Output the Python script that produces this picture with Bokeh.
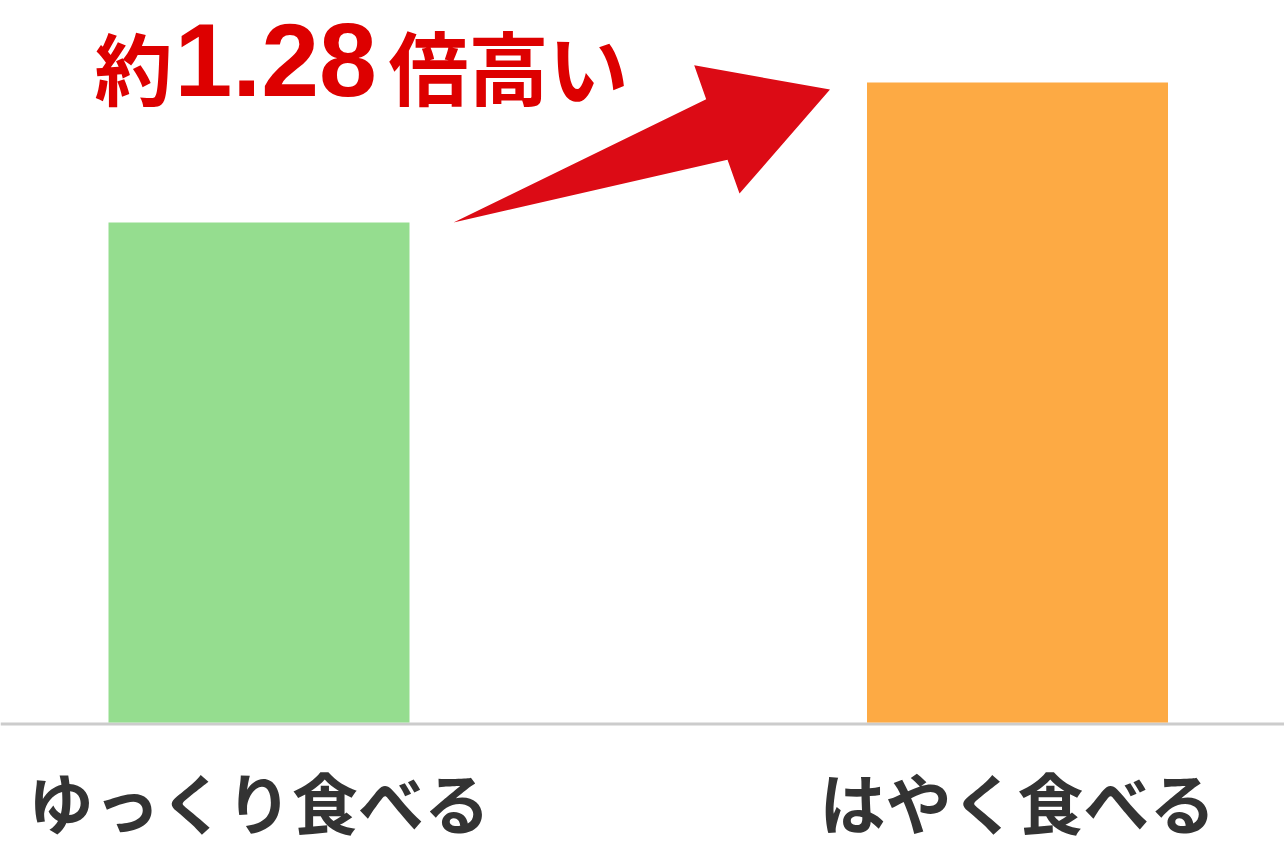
import math
from bokeh.plotting import figure
from bokeh.models import Range1d, Span
from bokeh.core.properties import value
from bokeh.embed import file_html
from bokeh.resources import INLINE

# ---- data ----
categories = ["ゆっくり食べる", "はやく食べる"]
values = [100, 128]
bar_colors = ["#95dd8f", "#fdaa44"]
title_prefix = "約"
title_number = "1.28"
title_suffix = "倍高い"

# ---- layout (pixel geometry of the frame) ----
W, H = 1284, 850
x0_px = 258.5       # pixel centre of the first category
px_per_x = 758.5    # pixels per category step
y0_px = 722.0       # pixel row of the value 0
px_per_y = 5.0      # pixels per value unit
bar_width = 301 / px_per_x


def to_data(px, py):
    return (px - x0_px) / px_per_x, (y0_px - py) / px_per_y


def to_px(x, y):
    return x0_px + x * px_per_x, y0_px - y * px_per_y


p = figure(width=W, height=H, output_backend="svg", toolbar_location=None,
           x_range=Range1d(-x0_px / px_per_x, (W - x0_px) / px_per_x),
           y_range=Range1d(-(H - y0_px) / px_per_y, y0_px / px_per_y),
           x_axis_location=None, y_axis_location=None,
           min_border=0)
p.outline_line_color = None
p.grid.visible = False
p.background_fill_color = "white"
p.border_fill_color = "white"

xs = list(range(len(categories)))

# baseline
p.add_layout(Span(location=to_data(0, 723.5)[1], dimension="width",
                  line_color="#cccccc", line_width=3, level="underlay"))

p.vbar(x=xs, top=values, bottom=0, width=bar_width, color=bar_colors, line_color=None)

# category labels
label_y = to_data(0, 799)[1]
p.text(x=xs, y=[label_y] * len(xs), text=categories,
       text_font=value("Noto Sans CJK JP"), text_font_style="bold",
       text_font_size="66px", text_color="#333333",
       text_align="center", text_baseline="middle")

# ---- arrow from green bar top to orange bar top ----
tx, ty = to_px(xs[0] + bar_width / 2, values[0])
tx += 44
px_, py_ = to_px(xs[1] - bar_width / 2, values[1])
px_ -= 37
py_ += 7
dx, dy = px_ - tx, py_ - ty
L = math.hypot(dx, dy)
ux, uy = dx / L, dy / L
nx, ny = uy, -ux
head_len, neck_w, head_w = 120, 32, 68
pts = [
    (tx, ty),
    (px_ - head_len * ux + neck_w * nx, py_ - head_len * uy + neck_w * ny),
    (px_ - head_len * ux + head_w * nx, py_ - head_len * uy + head_w * ny),
    (px_, py_),
    (px_ - head_len * ux - head_w * nx, py_ - head_len * uy - head_w * ny),
    (px_ - head_len * ux - neck_w * nx, py_ - head_len * uy - neck_w * ny),
]
dpts = [to_data(a, b) for a, b in pts]
p.patch([d[0] for d in dpts], [d[1] for d in dpts], color="#dc0b15", line_color=None)

# ---- title text ----
red = "#dd0000"
p.text(x=[to_data(94, 0)[0]], y=[to_data(0, 65)[1]], text=[title_prefix],
       text_font=value("Noto Sans CJK JP"), text_font_style="bold",
       text_font_size="78px", text_color=red, text_baseline="middle", text_align="left")
p.text(x=[to_data(174, 0)[0]], y=[to_data(0, 59)[1]], text=[title_number],
       text_font=value("Liberation Sans"), text_font_style="bold",
       text_font_size="104px", text_color=red, text_baseline="middle", text_align="left")
p.text(x=[to_data(388, 0)[0]], y=[to_data(0, 63)[1]], text=[title_suffix],
       text_font=value("Noto Sans CJK JP"), text_font_style="bold",
       text_font_size="80px", text_color=red, text_baseline="middle", text_align="left")

open("out.html", "w").write(file_html(p, INLINE))
